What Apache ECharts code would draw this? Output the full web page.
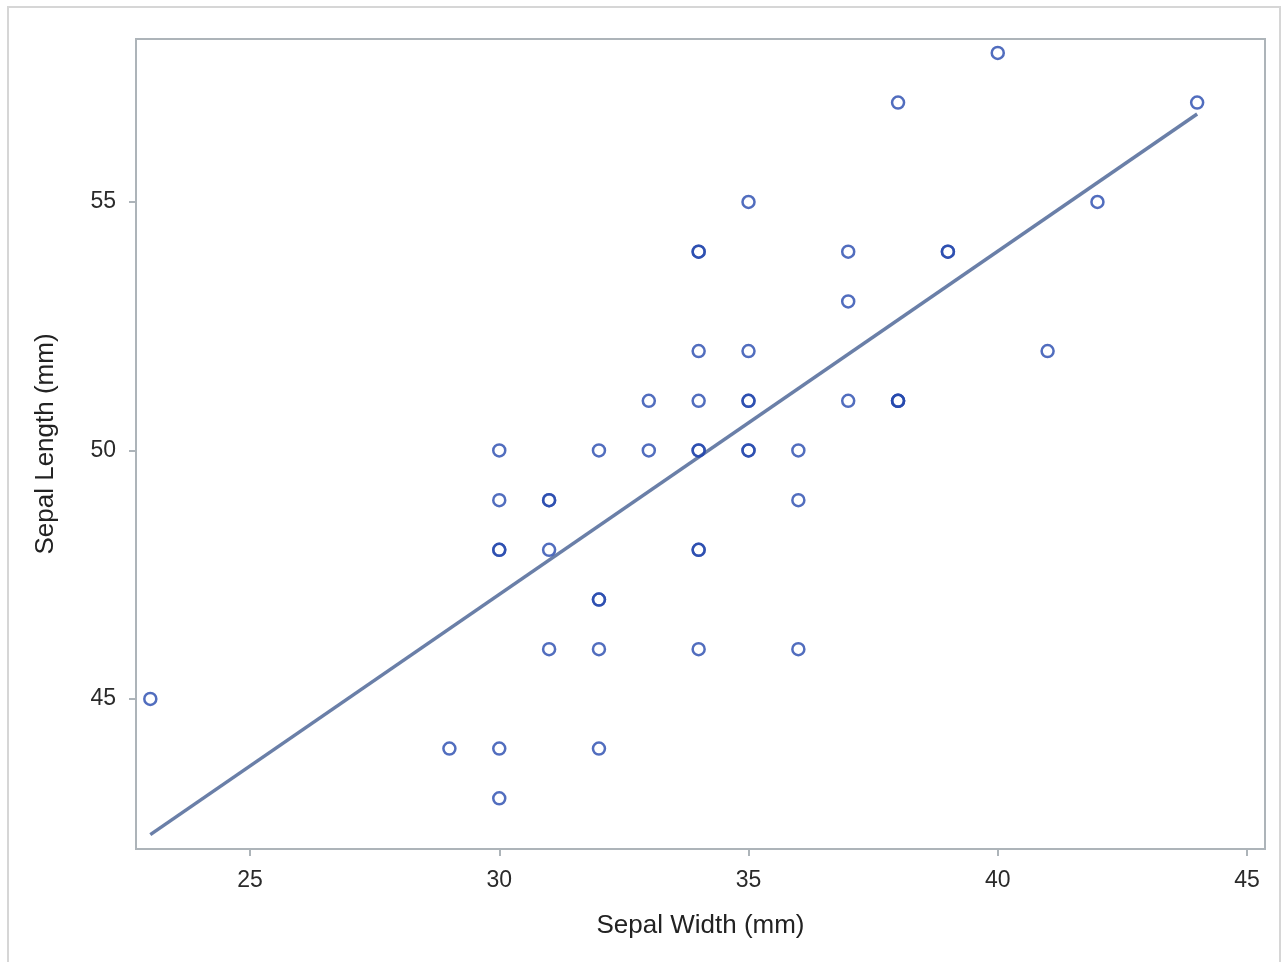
<!DOCTYPE html>
<html>
<head>
<meta charset="utf-8">
<script src="https://cdn.jsdelivr.net/npm/echarts@6/dist/echarts.min.js"></script>
<style>
html,body{margin:0;padding:0;background:#fff;}
#chart{width:1288px;height:962px;}
</style>
</head>
<body>
<div id="chart"></div>
<script>
// Iris setosa measurements (mm)
const sepalWidth = [35,30,32,31,36,39,34,34,29,31,37,34,30,30,40,44,39,35,38,38,34,37,36,33,34,30,34,35,34,32,31,34,41,42,31,32,35,36,30,34,35,23,32,35,38,30,38,32,37,33];
const sepalLength = [51,49,47,46,50,54,46,50,44,49,54,48,48,43,58,57,54,51,57,51,54,51,46,51,48,50,50,52,52,47,48,54,52,55,49,50,55,49,44,51,50,45,44,50,51,48,51,46,53,50];
// regression line end points
const fitX = [23, 44];
const fitY = [42.27, 56.77];
const xTicks = [25, 30, 35, 40, 45];
const yTicks = [45, 50, 55];

const points = sepalWidth.map((w, i) => [w, sepalLength[i]]);
const fitLine = fitX.map((x, i) => [x, fitY[i]]);

const chart = echarts.init(document.getElementById('chart'), null, {renderer: 'canvas'});
const font = 'Liberation Sans, Arial, sans-serif';
const frameColor = '#adb4b9';
chart.setOption({
  animation: false,
  backgroundColor: '#fff',
  graphic: [{
    type: 'rect',
    shape: {x: 8, y: 7, width: 1272, height: 1000},
    style: {fill: 'none', stroke: '#d6d6d6', lineWidth: 2},
    silent: true
  }],
  grid: {
    left: 136, right: 23, top: 39, bottom: 113,
    show: true, borderColor: frameColor, borderWidth: 2, backgroundColor: 'transparent'
  },
  xAxis: {
    type: 'value',
    min: 22.713, max: 45.361,
    name: 'Sepal Width (mm)',
    nameLocation: 'middle',
    nameGap: 64,
    nameTextStyle: {fontFamily: font, fontSize: 26, color: '#222'},
    splitLine: {show: false},
    axisLine: {show: false},
    axisTick: {show: true, length: 7, lineStyle: {color: frameColor, width: 2}, customValues: xTicks},
    axisLabel: {fontFamily: font, fontSize: 23, color: '#2a2a2a', margin: 20, customValues: xTicks}
  },
  yAxis: {
    type: 'value',
    min: 41.98, max: 58.28,
    name: 'Sepal Length (mm)',
    nameLocation: 'middle',
    nameGap: 77,
    nameRotate: 90,
    nameTextStyle: {fontFamily: font, fontSize: 26, color: '#222'},
    splitLine: {show: false},
    axisLine: {show: false},
    axisTick: {show: true, length: 7, lineStyle: {color: frameColor, width: 2}, customValues: yTicks},
    axisLabel: {fontFamily: font, fontSize: 23, color: '#2a2a2a', margin: 20, customValues: yTicks}
  },
  series: [{
    type: 'line',
    data: fitLine,
    showSymbol: false,
    symbol: 'none',
    lineStyle: {color: '#6a7fa8', width: 3.5},
    z: 2
  }, {
    type: 'scatter',
    data: points,
    symbol: 'circle',
    symbolSize: 12,
    itemStyle: {color: 'rgba(255,255,255,0)', borderColor: '#2648ae', borderWidth: 2.5},
    z: 3
  }]
});
</script>
</body>
</html>
